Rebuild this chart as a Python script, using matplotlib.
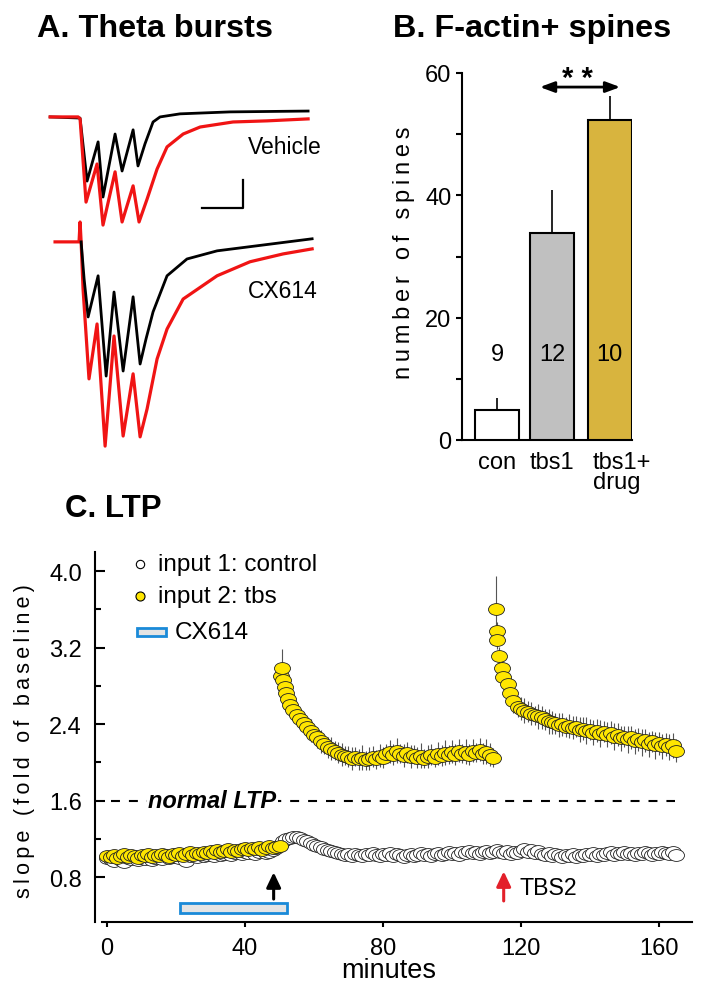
import matplotlib
matplotlib.use('Agg')
import matplotlib.pyplot as plt
from matplotlib.path import Path
from matplotlib.patches import Rectangle
from matplotlib.transforms import Affine2D, ScaledTranslation

plt.rcParams['font.family'] = ['Liberation Sans', 'DejaVu Sans']

# ---------------- data ----------------
# A: theta burst responses (time ms, amplitude mV)
veh_red_t = [-17.1, -1.1, 0.0, 3.4, 9.7, 13.1, 20.0, 24.0, 30.3, 33.7, 38.3, 44.0, 49.7, 58.9, 68.6, 87.4, 106.9, 130.3]
veh_red_v = [0.0, 0.0, -0.07, -3.04, -1.68, -3.86, -1.96, -3.75, -2.46, -3.75, -2.93, -1.86, -1.07, -0.61, -0.36, -0.18, -0.14, -0.07]
veh_blk_t = [-17.1, 0.0, 4.0, 10.3, 13.1, 20.0, 24.0, 30.3, 33.1, 37.1, 41.7, 45.7, 57.1, 85.7, 130.3]
veh_blk_v = [0.0, -0.04, -2.29, -0.89, -2.86, -0.61, -1.93, -0.46, -1.75, -0.96, -0.18, 0.0, 0.11, 0.18, 0.21]
cx_red_t = [-14.3, -0.6, 0.0, 0.6, 1.7, 5.1, 9.7, 14.3, 19.4, 24.6, 30.3, 34.3, 38.3, 44.0, 49.7, 58.9, 78.3, 97.1, 116.0, 132.6]
cx_red_v = [0.0, 0.0, 0.71, 0.0, -1.68, -4.89, -2.93, -7.29, -3.36, -6.93, -4.71, -6.96, -5.96, -4.18, -3.11, -2.04, -1.21, -0.71, -0.43, -0.25]
cx_blk_t = [0.6, 2.3, 4.6, 10.3, 14.9, 19.4, 24.6, 30.3, 34.3, 37.7, 41.7, 49.7, 61.1, 78.3, 132.6]
cx_blk_v = [0.0, -1.32, -2.68, -1.21, -4.79, -1.79, -4.61, -1.96, -4.36, -3.46, -2.50, -1.21, -0.61, -0.32, 0.11]

# B: F-actin+ spines
groups = ['con', 'tbs1', 'tbs1+\ndrug']
spines_mean = [4.9, 33.9, 52.3]
spines_sem = [2.0, 6.9, 3.9]
n_slices = [9, 12, 10]
bar_colors = ['white', '#c0c0c0', '#d8b43e']

# C: LTP time course (minutes, fold of baseline)
ctrl_t = list(range(0, 166))
ctrl_v = [1.00, 0.99, 0.97, 1.01, 0.98, 0.96, 1.00, 0.99, 1.01, 0.98,
          1.00, 0.99, 1.02, 0.98, 1.00, 1.01, 0.99, 1.02, 1.00, 1.01,
          1.03, 1.00, 1.02, 0.97, 1.02, 1.03, 1.01, 1.04, 1.02, 1.03,
          1.04, 1.02, 1.05, 1.03, 1.04, 1.06, 1.03, 1.05, 1.07, 1.04,
          1.06, 1.05, 1.07, 1.04, 1.06, 1.08, 1.05, 1.06, 1.08, 1.10,
          1.14, 1.18, 1.20, 1.21, 1.22, 1.22, 1.21, 1.19, 1.18, 1.16,
          1.14, 1.12, 1.11, 1.09, 1.08, 1.07, 1.06, 1.05, 1.04, 1.03,
          1.04, 1.02, 1.04, 1.03, 1.02, 1.04, 1.03, 1.05, 1.03, 1.02,
          1.04, 1.03, 1.05, 1.02, 1.04, 1.03, 1.01, 1.03, 1.04, 1.02,
          1.03, 1.05, 1.03, 1.04, 1.02, 1.04, 1.05, 1.03, 1.04, 1.06,
          1.04, 1.05, 1.03, 1.06, 1.05, 1.07, 1.05, 1.06, 1.04, 1.06,
          1.07, 1.05, 1.06, 1.08, 1.06, 1.05, 1.07, 1.04, 1.06, 1.05,
          1.07, 1.09, 1.06, 1.08, 1.05, 1.07, 1.04, 1.03, 1.05, 1.02,
          1.04, 1.03, 1.01, 1.03, 1.02, 1.04, 1.01, 1.03, 1.02, 1.04,
          1.03, 1.05, 1.02, 1.04, 1.03, 1.05, 1.06, 1.03, 1.05, 1.04,
          1.06, 1.04, 1.05, 1.03, 1.05, 1.04, 1.06, 1.05, 1.03, 1.05,
          1.04, 1.06, 1.05, 1.04, 1.06, 1.03]

base_t = list(range(0, 51))
base_v = [1.02, 1.01, 1.03, 1.00, 1.02, 1.04, 1.01, 1.03, 1.02, 1.00,
          1.03, 1.02, 1.04, 1.01, 1.03, 1.02, 1.04, 1.03, 1.01, 1.04,
          1.03, 1.05, 1.02, 1.04, 1.06, 1.03, 1.05, 1.04, 1.06, 1.05,
          1.07, 1.05, 1.08, 1.06, 1.07, 1.09, 1.06, 1.08, 1.07, 1.09,
          1.10, 1.08, 1.10, 1.09, 1.11, 1.08, 1.10, 1.12, 1.10, 1.11, 1.12]

tbs1_t = [50.5, 50.8, 51.1, 51.5, 52.0, 52.5, 53, 54, 55, 56, 57, 58, 59, 60, 61, 62, 63, 64, 65, 66,
          67, 68, 69, 70, 71, 72, 73, 74, 75, 76, 77, 78, 79, 80, 81, 82, 83, 84, 85, 86,
          87, 88, 89, 90, 91, 92, 93, 94, 95, 96, 97, 98, 99, 100, 101, 102, 103, 104, 105, 106,
          107, 108, 109, 110, 111, 112]
tbs1_v = [2.90, 2.99, 2.86, 2.79, 2.72, 2.66, 2.60, 2.55, 2.50, 2.45, 2.41, 2.37, 2.33, 2.29, 2.26, 2.22, 2.19, 2.16, 2.14, 2.12,
          2.10, 2.08, 2.07, 2.06, 2.04, 2.06, 2.03, 2.05, 2.02, 2.04, 2.06, 2.03, 2.07, 2.05, 2.09, 2.11, 2.08, 2.12, 2.09, 2.07,
          2.10, 2.06, 2.08, 2.05, 2.07, 2.04, 2.06, 2.08, 2.05, 2.09, 2.07, 2.10, 2.08, 2.11, 2.08, 2.12, 2.09, 2.11, 2.08, 2.12,
          2.10, 2.13, 2.09, 2.11, 2.08, 2.05]
tbs1_err = [0.12, 0.20, 0.12, 0.10, 0.10, 0.11, 0.09, 0.10, 0.12, 0.10, 0.11, 0.09, 0.12, 0.10, 0.11, 0.12, 0.10, 0.11, 0.12, 0.10,
            0.11, 0.12, 0.10, 0.11, 0.12, 0.10, 0.11, 0.13, 0.10, 0.12, 0.11, 0.10, 0.12, 0.11, 0.10, 0.12, 0.11, 0.13, 0.10, 0.12,
            0.11, 0.12, 0.10, 0.11, 0.13, 0.10, 0.12, 0.11, 0.10, 0.12, 0.11, 0.13, 0.10, 0.12, 0.11, 0.12, 0.10, 0.13, 0.11, 0.12,
            0.10, 0.12, 0.11, 0.13, 0.12, 0.10]

tbs2_t = [112.8, 113.0, 113.2, 113.6, 114.5, 114.8, 116.2, 116.8, 117.7, 119.1,
          120, 121, 122, 123, 124, 125, 126, 127, 128, 129, 130, 131, 132, 133, 134, 135, 136, 137,
          138, 139, 140, 141, 142, 143, 144, 145, 146, 147, 148, 149, 150, 151, 152, 153, 154, 155,
          156, 157, 158, 159, 160, 161, 162, 163, 164, 165]
tbs2_v = [3.60, 3.37, 3.28, 3.11, 2.99, 2.89, 2.82, 2.73, 2.64, 2.58,
          2.56, 2.54, 2.53, 2.51, 2.49, 2.48, 2.47, 2.45, 2.43, 2.42, 2.41, 2.39, 2.40, 2.37, 2.38, 2.36, 2.37, 2.34,
          2.35, 2.33, 2.34, 2.31, 2.33, 2.30, 2.32, 2.29, 2.31, 2.27, 2.29, 2.25, 2.27, 2.24, 2.26, 2.22, 2.24, 2.21,
          2.23, 2.19, 2.22, 2.18, 2.20, 2.17, 2.19, 2.16, 2.18, 2.12]
tbs2_err = [0.35, 0.10, 0.09, 0.10, 0.11, 0.12, 0.10, 0.11, 0.12, 0.11,
            0.12, 0.13, 0.11, 0.12, 0.10, 0.13, 0.12, 0.11, 0.13, 0.12, 0.11, 0.13, 0.12, 0.10, 0.13, 0.12, 0.11, 0.13,
            0.12, 0.14, 0.11, 0.13, 0.12, 0.14, 0.11, 0.13, 0.12, 0.14, 0.12, 0.13, 0.11, 0.14, 0.12, 0.13, 0.12, 0.14,
            0.12, 0.13, 0.11, 0.14, 0.12, 0.13, 0.12, 0.14, 0.13, 0.12]

normal_ltp = 1.6
cx614_start, cx614_end = 21.2, 52.2
tbs1_time, tbs2_time = 48.3, 115.0

# ---------------- figure ----------------
W, H = 702, 995
fig = plt.figure(figsize=(W / 100, H / 100), dpi=100)


def px_rect(x0, y0, x1, y1):
    return [x0 / W, 1 - y1 / H, (x1 - x0) / W, (y1 - y0) / H]


fig.text(37 / W, 1 - 37 / H, 'A. Theta bursts', weight='bold', size=23.3, va='baseline')
fig.text(393 / W, 1 - 37 / H, 'B. F-actin+ spines', weight='bold', size=23.3, va='baseline')
fig.text(65 / W, 1 - 517 / H, 'C. LTP', weight='bold', size=22.5, va='baseline')

# ---- A: traces ----
axA = fig.add_axes(px_rect(40, 100, 320, 460))
axA.axis('off')
cx_off = -4.46
axA.plot(veh_blk_t, veh_blk_v, color='black', lw=2.0, solid_joinstyle='round', zorder=2)
axA.plot(veh_red_t, veh_red_v, color='#f01414', lw=2.3, solid_joinstyle='round', zorder=3)
axA.plot(cx_red_t, [v + cx_off for v in cx_red_v], color='#f01414', lw=2.3, solid_joinstyle='round', zorder=2)
axA.plot(cx_blk_t, [v + cx_off for v in cx_blk_v], color='black', lw=2.0, solid_joinstyle='round', zorder=3)
axA.plot([69.7, 93.1, 93.1], [-3.25, -3.25, -2.25], color='black', lw=1.6)
axA.text(96, -1.07, 'Vehicle', size=16.5, va='center', ha='left')
axA.text(96, -6.21, 'CX614', size=16.5, va='center', ha='left')
axA.set_xlim(-22.9, 137.1)
axA.set_ylim(-12.21, 0.64)

# ---- B: bars ----
axB = fig.add_axes(px_rect(462, 74, 632, 441))
xpos = [0, 1, 2.05]
axB.bar(xpos, spines_mean, width=0.8, color=bar_colors, edgecolor='black', linewidth=1.5, zorder=3)
axB.errorbar(xpos, spines_mean, yerr=[[0, 0, 0], spines_sem], fmt='none', ecolor='black',
             elinewidth=1.2, capsize=0, zorder=2)
for x, n in zip(xpos, n_slices):
    axB.text(x, 14, str(n), ha='center', va='center', size=17, zorder=4)
axB.set_xlim(-0.636, 2.4545)
axB.set_ylim(0, 60)
axB.set_yticks([0, 20, 40, 60])
axB.set_yticks([10, 30, 50], minor=True)
axB.tick_params(axis='y', which='both', direction='out', length=4, width=1.5, labelsize=17, pad=3.5)
axB.set_xticks(xpos)
axB.set_xticklabels(groups, size=17, linespacing=0.9)
axB.tick_params(axis='x', length=0, pad=8)
lab3 = axB.get_xticklabels()[2]
lab3.set_ha('left')
lab3.set_transform(lab3.get_transform() + ScaledTranslation(-0.1675, 0, fig.dpi_scale_trans))
for s in ['top', 'right']:
    axB.spines[s].set_visible(False)
for s in ['left', 'bottom']:
    axB.spines[s].set_linewidth(1.5)
axB.set_ylabel('\u2009'.join('number of spines'), size=17)
axB.yaxis.set_label_coords(-0.277, 0.512)
axB.annotate('', xy=(2.24, 57.7), xytext=(0.78, 57.7),
             arrowprops=dict(arrowstyle='<|-|>,head_length=0.86,head_width=0.32', lw=2,
                             color='black', shrinkA=0, shrinkB=0))
axB.text(1.47, 59.2, '* *', ha='center', va='center', size=21, weight='bold', clip_on=False)

# ---- C: LTP ----
axC = fig.add_axes(px_rect(95, 553, 692, 923))
ell = Path.unit_circle().transformed(Affine2D().scale(1.35, 1.0))
ms = 11.5
axC.plot(ctrl_t, ctrl_v, ls='none', marker=ell, ms=ms, mfc='white', mec='#222222', mew=0.6, zorder=2)
axC.plot(base_t, base_v, ls='none', marker=ell, ms=ms, mfc='#ffe600', mec='#222222', mew=0.6, zorder=3)
for tt, vv, ee in [(tbs1_t, tbs1_v, tbs1_err), (tbs2_t, tbs2_v, tbs2_err)]:
    axC.errorbar(tt, vv, yerr=ee, fmt='none', ecolor='#555555', elinewidth=0.8, capsize=0, zorder=3)
    axC.plot(tt, vv, ls='none', marker=ell, ms=ms, mfc='#ffe600', mec='#222222', mew=0.6, zorder=4)

axC.hlines(normal_ltp, 1, 164.6, colors='black', linestyles=(0, (4.3, 4.3)), lw=1.5, zorder=1)
axC.text(30.5, normal_ltp, 'normal LTP', ha='center', va='center', size=17, weight='bold', style='italic',
         bbox=dict(fc='white', ec='none', pad=1), zorder=2)

axC.add_patch(Rectangle((cx614_start, 0.42), cx614_end - cx614_start, 0.11, fc='#e4e4e4', ec='#1a8ad8',
                        lw=2, zorder=3))
axC.annotate('', xy=(tbs1_time, 0.85), xytext=(tbs1_time, 0.57),
             arrowprops=dict(arrowstyle='-|>,head_length=0.9,head_width=0.43', lw=2.2, color='black',
                             shrinkA=0, shrinkB=0))
axC.annotate('', xy=(tbs2_time, 0.86), xytext=(tbs2_time, 0.55),
             arrowprops=dict(arrowstyle='-|>,head_length=0.9,head_width=0.43', lw=2.2, color='#e3202a',
                             shrinkA=0, shrinkB=0))
axC.text(119.7, 0.695, 'TBS2', ha='left', va='center', size=16.7)

# legend
axC.plot([9.6], [4.07], ls='none', marker='o', ms=6, mfc='white', mec='black', mew=0.8)
axC.plot([9.6], [3.74], ls='none', marker='o', ms=6.5, mfc='#ffe600', mec='black', mew=0.8)
axC.add_patch(Rectangle((8.7, 3.318), 8.4, 0.084, fc='#e4e4e4', ec='#1a8ad8', lw=2))
axC.text(14.8, 4.07, 'input 1: control', va='center', size=17.5)
axC.text(14.8, 3.74, 'input 2: tbs', va='center', size=17.5)
axC.text(19.7, 3.36, 'CX614', va='center', size=17.5)

axC.set_xlim(-3.5, 169.6)
axC.set_ylim(0.33, 4.2)
axC.set_xticks([0, 40, 80, 120, 160])
axC.set_yticks([0.8, 1.6, 2.4, 3.2, 4.0])
axC.set_yticklabels(['0.8', '1.6', '2.4', '3.2', '4.0'])
axC.set_yticks([1.2, 2.0, 2.8, 3.6], minor=True)
axC.tick_params(axis='y', which='major', direction='in', length=7, width=1.5, labelsize=17, pad=9.4)
axC.tick_params(axis='y', which='minor', direction='in', length=4, width=1.5)
axC.tick_params(axis='x', direction='out', length=3.6, width=1.5, labelsize=17, pad=7)
for s in ['top', 'right']:
    axC.spines[s].set_visible(False)
for s in ['left', 'bottom']:
    axC.spines[s].set_linewidth(1.5)
axC.spines['bottom'].set_bounds(-1.5, 169.6)
axC.set_xlabel('minutes', size=19.5, va='top')
axC.xaxis.set_label_coords(0.4925, -0.0946)
axC.set_ylabel('\u2009'.join('slope (fold of baseline)'), size=15.5)
axC.yaxis.set_label_coords(-0.1005, 0.492)

fig.savefig('out.png', dpi=100)
